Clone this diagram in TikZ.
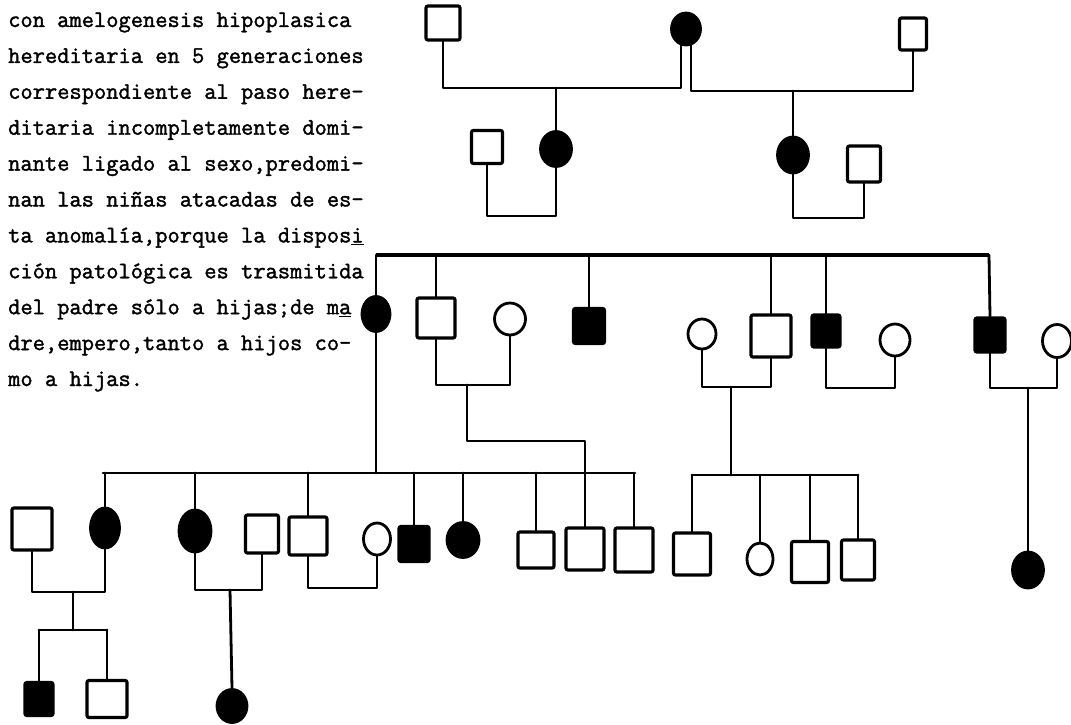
\documentclass[tikz,border=0pt]{standalone}
\usepackage{fontspec}
\setmonofont{Latin Modern Mono}[FakeBold=1.6]
\usetikzlibrary{shapes.geometric,calc}
\begin{document}
\begin{tikzpicture}[x=1pt,y=-1pt,
  ln/.style={line width=2.8pt, line cap=round, line join=round},
  sqn/.style={draw, line width=3.2pt, rectangle, rounded corners=2pt, inner sep=0pt, fill=white},
  sqa/.style={sqn, fill=black},
  crn/.style={draw, line width=2.8pt, ellipse, inner sep=0pt, fill=white},
  cra/.style={crn, fill=black},
  sz/.style 2 args={minimum width=#1pt, minimum height=#2pt},
  txt/.style={anchor=base west, inner sep=0pt, font=\fontsize{23.8}{28}\selectfont\ttfamily\bfseries}
]
\fill[white] (0,0) rectangle (1071,725);
\useasboundingbox (0,0) rectangle (1071,725);

% ---------- text ----------
\node[txt] (t1)  at (8,27)    {con amelogenesis hipoplasica};
\node[txt] (t2)  at (8,62.9)  {hereditaria en 5 generaciones};
\node[txt] (t3)  at (8,98.8)  {correspondiente al paso here-};
\node[txt] (t4)  at (8,134.7) {ditaria incompletamente domi-};
\node[txt] (t5)  at (8,170.6) {nante ligado al sexo,predomi-};
\node[txt] (t6)  at (8,206.5) {nan las niñas atacadas de es-};
\node[txt] (t7)  at (8,242.4) {ta anomalía,porque la dispos\underline{i}};
\node[txt] (t8)  at (8,278.3) {ción patológica es trasmitida};
\node[txt] (t9)  at (8,314.2) {del padre sólo a hijas;de m\underline{a}};
\node[txt] (t10) at (8,350.1) {dre,empero,tanto a hijos co-};
\node[txt] (t11) at (8,386)   {mo a hijas.};

% ---------- coordinates ----------
\coordinate (m1) at (556,88);
\coordinate (m2) at (793,91);
\coordinate (m3) at (521,216);
\coordinate (m4) at (828,218);
\coordinate (bl) at (376,255);
\coordinate (br) at (989,255);
\coordinate (m5) at (467,385);
\coordinate (k1) at (467,441);
\coordinate (m6) at (731,387);
\coordinate (m7) at (860,388);
\coordinate (m8) at (1028,388);
\coordinate (ga) at (103,473);
\coordinate (gb) at (635,473);
\coordinate (gc) at (692,475);
\coordinate (gd) at (858,475);
\coordinate (m9) at (73,592);
\coordinate (m10) at (230,590);
\coordinate (m11) at (343,588);
\coordinate (vl) at (39,630);
\coordinate (vr) at (107,630);

% ---------- generation I ----------
\node[sqn, sz={34}{34}] (I1) at (443,23) {};
\node[cra, sz={29}{32}] (I2) at (686,29) {};
\node[sqn, sz={27}{32}] (I3) at (913,34) {};
% ---------- generation II ----------
\node[sqn, sz={31}{33}] (II1) at (487,147) {};
\node[cra, sz={31}{35}] (II2) at (556,149) {};
\node[cra, sz={31}{36}] (II3) at (793,155) {};
\node[sqn, sz={33}{36}] (II4) at (864,164) {};
% ---------- generation III ----------
\node[cra, sz={28}{35}] (III1) at (376,314) {};
\node[sqn, sz={38}{40}] (III2) at (436,318) {};
\node[crn, sz={31}{32}] (III3) at (510,319) {};
\node[sqa, sz={31}{35}] (III4) at (589,326) {};
\node[crn, sz={28}{30}] (III5) at (702,334) {};
\node[sqn, sz={40}{42}] (III6) at (771,336) {};
\node[sqa, sz={28}{32}] (III7) at (826,331) {};
\node[crn, sz={30}{32}] (III8) at (895,340) {};
\node[sqa, sz={30}{34}] (III9) at (990,335) {};
\node[crn, sz={29}{33}] (III10) at (1057,341) {};
% ---------- generation IV ----------
\node[sqn, sz={40}{42}] (IVa) at (32,529) {};
\node[cra, sz={29}{40}] (IVb) at (105,528) {};
\node[cra, sz={32}{42}] (IVc) at (195,531) {};
\node[sqn, sz={33}{38}] (IVd) at (262,534) {};
\node[sqn, sz={38}{38}] (IVe) at (308,536) {};
\node[crn, sz={27}{32}] (IVf) at (377,539) {};
\node[sqa, sz={30}{35}] (IVg) at (414,544) {};
\node[cra, sz={32}{35}] (IVh) at (463,540) {};
\node[sqn, sz={36}{36}] (IVi) at (536,550) {};
\node[sqn, sz={38}{42}] (IVj) at (585,549) {};
\node[sqn, sz={38}{44}] (IVk) at (634,550) {};
\node[sqn, sz={37}{42}] (IVl) at (692,554) {};
\node[crn, sz={26}{32}] (IVm) at (760,559) {};
\node[sqn, sz={37}{41}] (IVn) at (810,562) {};
\node[sqn, sz={33}{40}] (IVo) at (858,560) {};
\node[cra, sz={31}{36}] (IVp) at (1028,570) {};
% ---------- generation V ----------
\node[sqa, sz={28}{33}] (V1) at (39,699) {};
\node[sqn, sz={40}{37}] (V2) at (107,699) {};
\node[cra, sz={30}{33}] (V3) at (232,706) {};

% ---------- connectors ----------
\draw[ln] (I1.south) |- (m1) -| (I2.253);
\draw[ln] (I2.287) |- (m2) -| (I3.south);
\draw[ln] (m1) -- (II2.north);
\draw[ln] (m2) -- (II3.north);
\draw[ln] (II1.south) |- (m3) -| (II2.south);
\draw[ln] (II3.south) |- (m4) -| (II4.south);

\draw[line width=4pt] (bl) -- (br);
\draw[ln] (bl) -- (III1.north);
\draw[ln] (III1.south) -- (III1.south |- ga);
\draw[ln] (III2.north |- bl) -- (III2.north);
\draw[ln] (III4.north |- bl) -- (III4.north);
\draw[ln] (III6.north |- bl) -- (III6.north);
\draw[ln] (III7.north |- bl) -- (III7.north);
\draw[ln] (br) -- (III9.north);

\draw[ln] (III2.south) |- (m5) -| (III3.south);
\draw[ln] (m5) -- (k1) -| (IVj.north);
\draw[ln] (III5.south) |- (m6) -| (III6.south);
\draw[ln] (m6) -- (m6 |- gc);
\draw[ln] (III7.south) |- (m7) -| (III8.south);
\draw[ln] (III9.south) |- (m8) -| (III10.south);
\draw[ln] (m8) -- (IVp.north);

\draw[ln] (ga) -- (gb);
\draw[ln] (gc) -- (gd);
\foreach \n in {IVb,IVc,IVe,IVg,IVh,IVi,IVk}{\draw[ln] (\n.north |- ga) -- (\n.north);}
\foreach \n in {IVl,IVm,IVn,IVo}{\draw[ln] (\n.north |- gc) -- (\n.north);}

\draw[ln] (IVa.south) |- (m9) -| (IVb.south);
\draw[ln] (m9) -- (m9 |- vl);
\draw[ln] (vl) -- (vr);
\draw[ln] (V1.north |- vl) -- (V1.north);
\draw[ln] (V2.north |- vl) -- (V2.north);
\draw[ln] (IVc.south) |- (m10) -| (IVd.south);
\draw[ln] (m10) -- (V3.north);
\draw[ln] (IVe.south) |- (m11) -| (IVf.south);
\end{tikzpicture}
\end{document}
